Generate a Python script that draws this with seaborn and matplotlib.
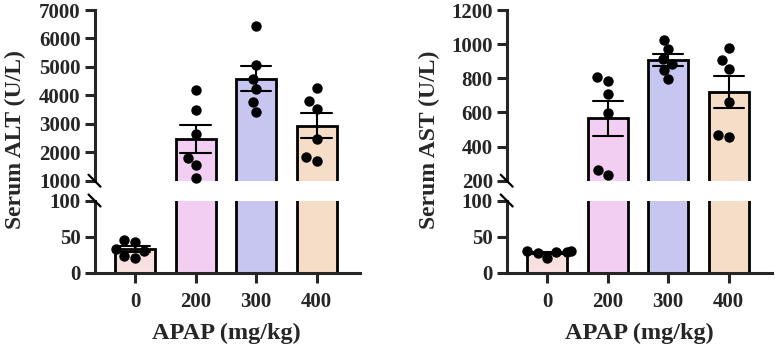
import numpy as np
import pandas as pd
import matplotlib
matplotlib.use("Agg")
import matplotlib.pyplot as plt
from matplotlib.lines import Line2D
import seaborn as sns

# ---------------- data ----------------
doses = ["0", "200", "300", "400"]
colors = ["#FCDCDC", "#F8C8F8", "#BFBFF8", "#FDDDC0"]

alt_0 = [43, 46, 33, 30, 21, 24]
alt_200 = [4180, 3500, 2630, 1810, 1560, 1110]
alt_300 = [6450, 5080, 4560, 4210, 3770, 3420]
alt_400 = [4260, 3790, 3510, 2470, 1710, 1850]

ast_0 = [28, 30, 29, 31, 21, 29]
ast_200 = [785, 805, 705, 595, 235, 265]
ast_300 = [1025, 970, 915, 885, 850, 795]
ast_400 = [975, 905, 855, 660, 455, 465]

alt_upper_ticks = [1000, 2000, 3000, 4000, 5000, 6000, 7000]
ast_upper_ticks = [200, 400, 600, 800, 1000, 1200]
lower_ticks = [0, 50, 100]

def make_df(groups):
    rows = []
    for d, vals in zip(doses, groups):
        for v in vals:
            rows.append((d, v))
    return pd.DataFrame(rows, columns=["dose", "value"])

alt_df = make_df([alt_0, alt_200, alt_300, alt_400])
ast_df = make_df([ast_0, ast_200, ast_300, ast_400])

# ---------------- style ----------------
sns.set_style("ticks")
plt.rcParams["font.family"] = ["Liberation Serif", "DejaVu Serif"]
plt.rcParams["font.weight"] = "bold"
plt.rcParams["axes.linewidth"] = 2.2

W, H = 775, 352
fig = plt.figure(figsize=(W / 100, H / 100), dpi=100)

up_bottom, up_h = 1 - 180.7 / H, (180.7 - 10) / H
lo_bottom, lo_h = 1 - 272.8 / H, (272.8 - 201) / H
ax_w = 265 / W
XLIM = (-0.67, 3.71)
DOT = 7.5  # marker diameter in points


def draw(ax, df, ylim, ticks, clip_low):
    sns.barplot(data=df, x="dose", y="value", hue="dose", order=doses,
                hue_order=doses, palette=colors, errorbar="se", capsize=0.5,
                width=0.66, edgecolor="black", linewidth=2.0,
                err_kws={"color": "black", "linewidth": 1.5},
                legend=False, ax=ax)
    if clip_low:
        sub = df[df["value"] <= ylim[1]]
    else:
        sub = df[df["value"] >= ylim[0] * 0.5]
    n0 = len(ax.collections)
    # swarm laid out with a slightly wider spacing (like GraphPad's scatter)
    sns.swarmplot(data=sub, x="dose", y="value", order=doses, color="black",
                  size=9.5, ax=ax, clip_on=False, zorder=5)
    for c in ax.collections[n0:]:
        c.set_sizes([DOT ** 2])
    ax.set_ylim(*ylim)
    ax.set_yticks(ticks)
    ax.set_yticklabels([str(t) for t in ticks])
    ax.set_xlim(*XLIM)
    ax.set_xlabel("")
    ax.set_ylabel("")
    for s in ["top", "right"]:
        ax.spines[s].set_visible(False)
    for s in ["left", "bottom"]:
        ax.spines[s].set_linewidth(2.2)
    ax.tick_params(axis="y", length=7, width=2.2, labelsize=15, pad=3)
    ax.tick_params(axis="x", length=7, width=2.2, labelsize=15, pad=7)
    for lab in ax.get_xticklabels() + ax.get_yticklabels():
        lab.set_fontweight("bold")


def panel(x_px, df, up_lim, up_ticks, ylabel, ylab_x, xlab_x):
    x0 = x_px / W
    ax_up = fig.add_axes([x0, up_bottom, ax_w, up_h])
    ax_lo = fig.add_axes([x0, lo_bottom, ax_w, lo_h])
    draw(ax_up, df, up_lim, up_ticks, clip_low=False)
    draw(ax_lo, df, (0, 100), lower_ticks, clip_low=True)
    ax_up.spines["bottom"].set_visible(False)
    ax_up.tick_params(axis="x", bottom=False, labelbottom=False)
    # break marks
    d = 6
    for ypx in (180.7, 200.5):
        xs = [(x_px - d) / W, (x_px + d) / W]
        ys = [1 - (ypx - d) / H, 1 - (ypx + d) / H]
        fig.add_artist(Line2D(xs, ys, color="black", linewidth=1.6,
                              transform=fig.transFigure))
    fig.text(ylab_x / W, 1 - 140 / H, ylabel, rotation=90, ha="center",
             va="center", fontsize=17, fontweight="bold")
    fig.text(xlab_x / W, 1 - 333 / H, "APAP (mg/kg)", ha="center",
             va="center", fontsize=17.5, fontweight="bold")


panel(94.5, alt_df, (1000, 7000), alt_upper_ticks, "Serum ALT (U/L)", 15.5, 226)
panel(506.7, ast_df, (200, 1200), ast_upper_ticks, "Serum AST (U/L)", 429, 639)

fig.savefig("out.png", dpi=100)
